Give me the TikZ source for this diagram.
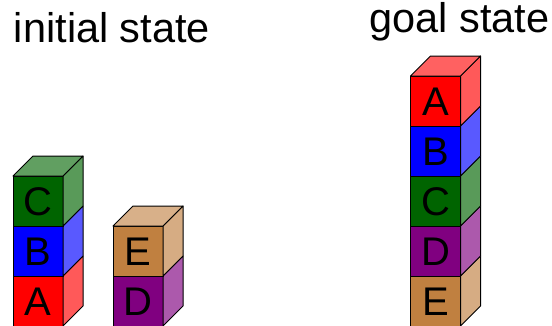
\documentclass[tikz,border=0pt]{standalone}
\usepackage{fontspec}
\setmainfont{Liberation Sans}
\definecolor{blkred}{RGB}{255,0,0}
\definecolor{blkblue}{RGB}{0,0,255}
\definecolor{blkgreen}{RGB}{0,100,0}
\definecolor{blkpurple}{RGB}{128,0,128}
\definecolor{blkbrown}{RGB}{192,128,64}
\tikzset{
  facebox/.style={draw=black, line width=1pt, inner sep=0pt, outer sep=0pt,
    minimum width=50pt, minimum height=50pt, line join=round},
  letter/.style={anchor=base, inner sep=0pt, font=\fontsize{40}{48}\selectfont},
  edge/.style={draw=black, line width=1pt, line join=round},
  title/.style={anchor=base, inner sep=0pt, font=\fontsize{41.5}{50}\selectfont}
}
% one block: name, x, y of the front lower-left corner, colour, letter
\newcommand\blockat[5]{%
  \node[facebox, fill=#4, anchor=south west] (#1) at (#2,#3) {};
  \node[letter] (#1-l) at ([yshift=10.7pt]#1.south) {#5};
  \path[edge, fill=#4!65!white] (#1.south east) -- ++(20,20) -- ++(0,50)
    -- (#1.north east) -- cycle;
}
% lid of the uppermost block of a stack
\newcommand\blocklid[2]{%
  \path[edge, fill=#2!62!white] (#1.north west) -- (#1.north east)
    -- ++(20,20) -- ++(-50,0) -- cycle;
}
\begin{document}
\begin{tikzpicture}[x=1pt,y=1pt]
\useasboundingbox (0,0) rectangle (552,325);
% titles
\node[title] (tinit) at (112,282.7) {initial state};
\node[title] (tgoal) at (459.3,292.5) {goal state};
% initial stack 1: A, B, C
\blockat{iA}{13}{-1}{blkred}{A}
\blockat{iB}{13}{49}{blkblue}{B}
\blockat{iC}{13}{99}{blkgreen}{C}
\blocklid{iC}{blkgreen}
% initial stack 2: D, E
\blockat{iD}{113}{-1}{blkpurple}{D}
\blockat{iE}{113}{49}{blkbrown}{E}
\blocklid{iE}{blkbrown}
% goal stack: E, D, C, B, A
\blockat{gE}{410.5}{-1}{blkbrown}{E}
\blockat{gD}{410.5}{49}{blkpurple}{D}
\blockat{gC}{410.5}{99}{blkgreen}{C}
\blockat{gB}{410.5}{149}{blkblue}{B}
\blockat{gA}{410.5}{199}{blkred}{A}
\blocklid{gA}{blkred}
\end{tikzpicture}
\end{document}
